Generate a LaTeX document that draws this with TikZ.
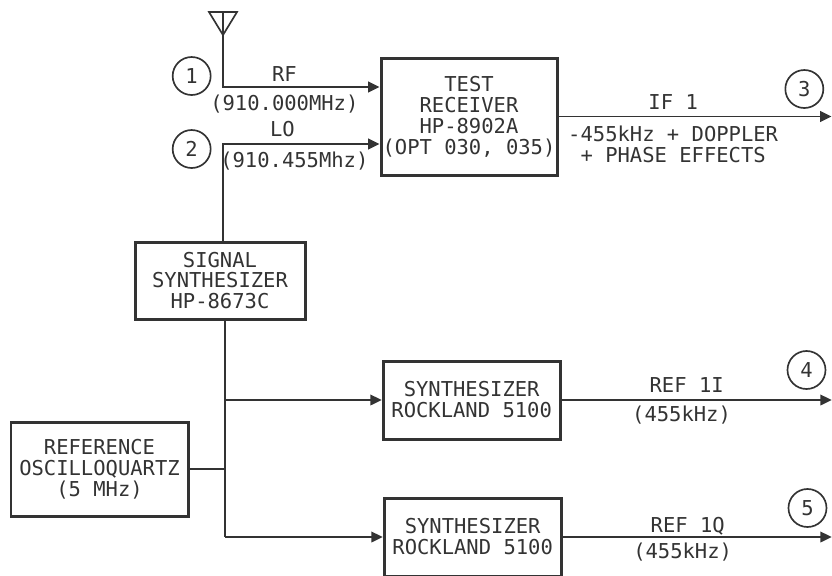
\documentclass[tikz,border=0pt]{standalone}
\usepackage{fontspec}
\setmonofont{DejaVu Sans Mono}
\usetikzlibrary{positioning, arrows.meta, calc}

\begin{document}
\begin{tikzpicture}[
    >={Triangle[length=3.4mm,width=3.2mm]},
    font=\fontsize{17.5}{17.9}\selectfont\ttfamily,
    color=black!80,
    box/.style={rectangle, draw=black!80, line width=0.09cm, inner sep=0pt, minimum width=5.31cm, minimum height=2.34cm, align=center},
    tag/.style={circle, draw=black!80, line width=0.05cm, inner sep=0pt, minimum size=1.14cm},
    arrow/.style={->, line width=0.05cm, draw=black!80},
    wire/.style={line width=0.05cm, draw=black!80},
    sig/.style={inner sep=0.2cm, text height=0.42cm, text depth=0pt, align=center},
]
\useasboundingbox (0,0) rectangle (24.96,-17.25);

% Receiver and signal source
\node[box, minimum width=5.28cm, minimum height=3.51cm] (receiver) at (14.07,-3.495) {TEST\\RECEIVER\\HP-8902A\\(OPT 030, 035)};
\node[box, below left=1.92cm and 2.19cm of receiver, minimum width=5.1cm, minimum height=2.31cm] (signal) {SIGNAL\\SYNTHESIZER\\HP-8673C};
\node[box, below left=3.0cm and -1.68cm of signal, minimum height=2.82cm] (reference) {REFERENCE\\OSCILLOQUARTZ\\(5 MHz)};

% Rockland synthesizers
\node[box, below=5.49cm of receiver, xshift=0.08cm] (rocki) {SYNTHESIZER\\ROCKLAND 5100};
\node[box, below=1.68cm of rocki, xshift=0.03cm] (rockq) {SYNTHESIZER\\ROCKLAND 5100};

% Numbered tags
\node[tag, left=5.04cm of receiver, yshift=1.215cm] (tag1) {1};
\node[tag, below=1.0cm of tag1] (tag2) {2};
\node[tag, right=6.78cm of receiver, yshift=0.825cm] (tag3) {3};
\node[tag, right=6.75cm of rocki, yshift=0.9cm] (tag4) {4};
\node[tag, right=6.75cm of rockq, yshift=0.87cm] (tag5) {5};

% Antenna
\coordinate (ant) at (6.69,-1.05);
\draw[wire] (ant) -- ($(ant)+(-0.42,0.69)$) -- ($(ant)+(0.42,0.69)$) -- cycle;
\draw[wire] (ant) -- ($(ant)+(0,0.69)$);

% Inputs to receiver
\draw[arrow] (ant) |- ([yshift=0.885cm]receiver.west)
    node[pos=0.696, above, sig, yshift=-0.06cm] (rf) {RF}
    node[pos=0.696, below, sig, yshift=-0.06cm] (rffreq) {(910.000MHz)};
\draw[arrow] ([xshift=0.09cm]signal.north) |- ([yshift=-0.825cm]receiver.west)
    node[pos=0.69, above, sig] (lo) {LO}
    node[pos=0.728, below, sig, yshift=-0.06cm] (lofreq) {(910.455Mhz)};

% Reference distribution
\draw[wire] ([xshift=0.15cm]signal.south) -- ([xshift=0.15cm]signal.south |- rockq.west) coordinate (busq);
\coordinate (busi) at ([xshift=0.15cm]signal.south |- rocki.west);
\draw[arrow] (busi) -- (rocki.west);
\draw[arrow] (busq) -- (rockq.west);
\draw[wire] (reference.east) -- (reference.east -| busi);

% Outputs
\coordinate[right=8.19cm of receiver.east] (out3);
\coordinate[right=8.1cm of rocki.east] (out4);
\coordinate[right=8.07cm of rockq.east] (out5);
\draw[arrow] (receiver.east) -- node[pos=0.42, above, sig] (ifa) {IF 1}
    node[pos=0.42, below, sig, inner sep=0.3cm, text height=1.05cm] (ifb) {-455kHz + DOPPLER\\+ PHASE EFFECTS} (out3);
\draw[arrow] (rocki.east) -- node[pos=0.463, above, sig] (refi) {REF 1I}
    node[pos=0.444, below, sig] (freqi) {(455kHz)} (out4);
\draw[arrow] (rockq.east) -- node[pos=0.465, above, sig, yshift=-0.08cm] (refq) {REF 1Q}
    node[pos=0.446, below, sig] (freqq) {(455kHz)} (out5);

\end{tikzpicture}
\end{document}
